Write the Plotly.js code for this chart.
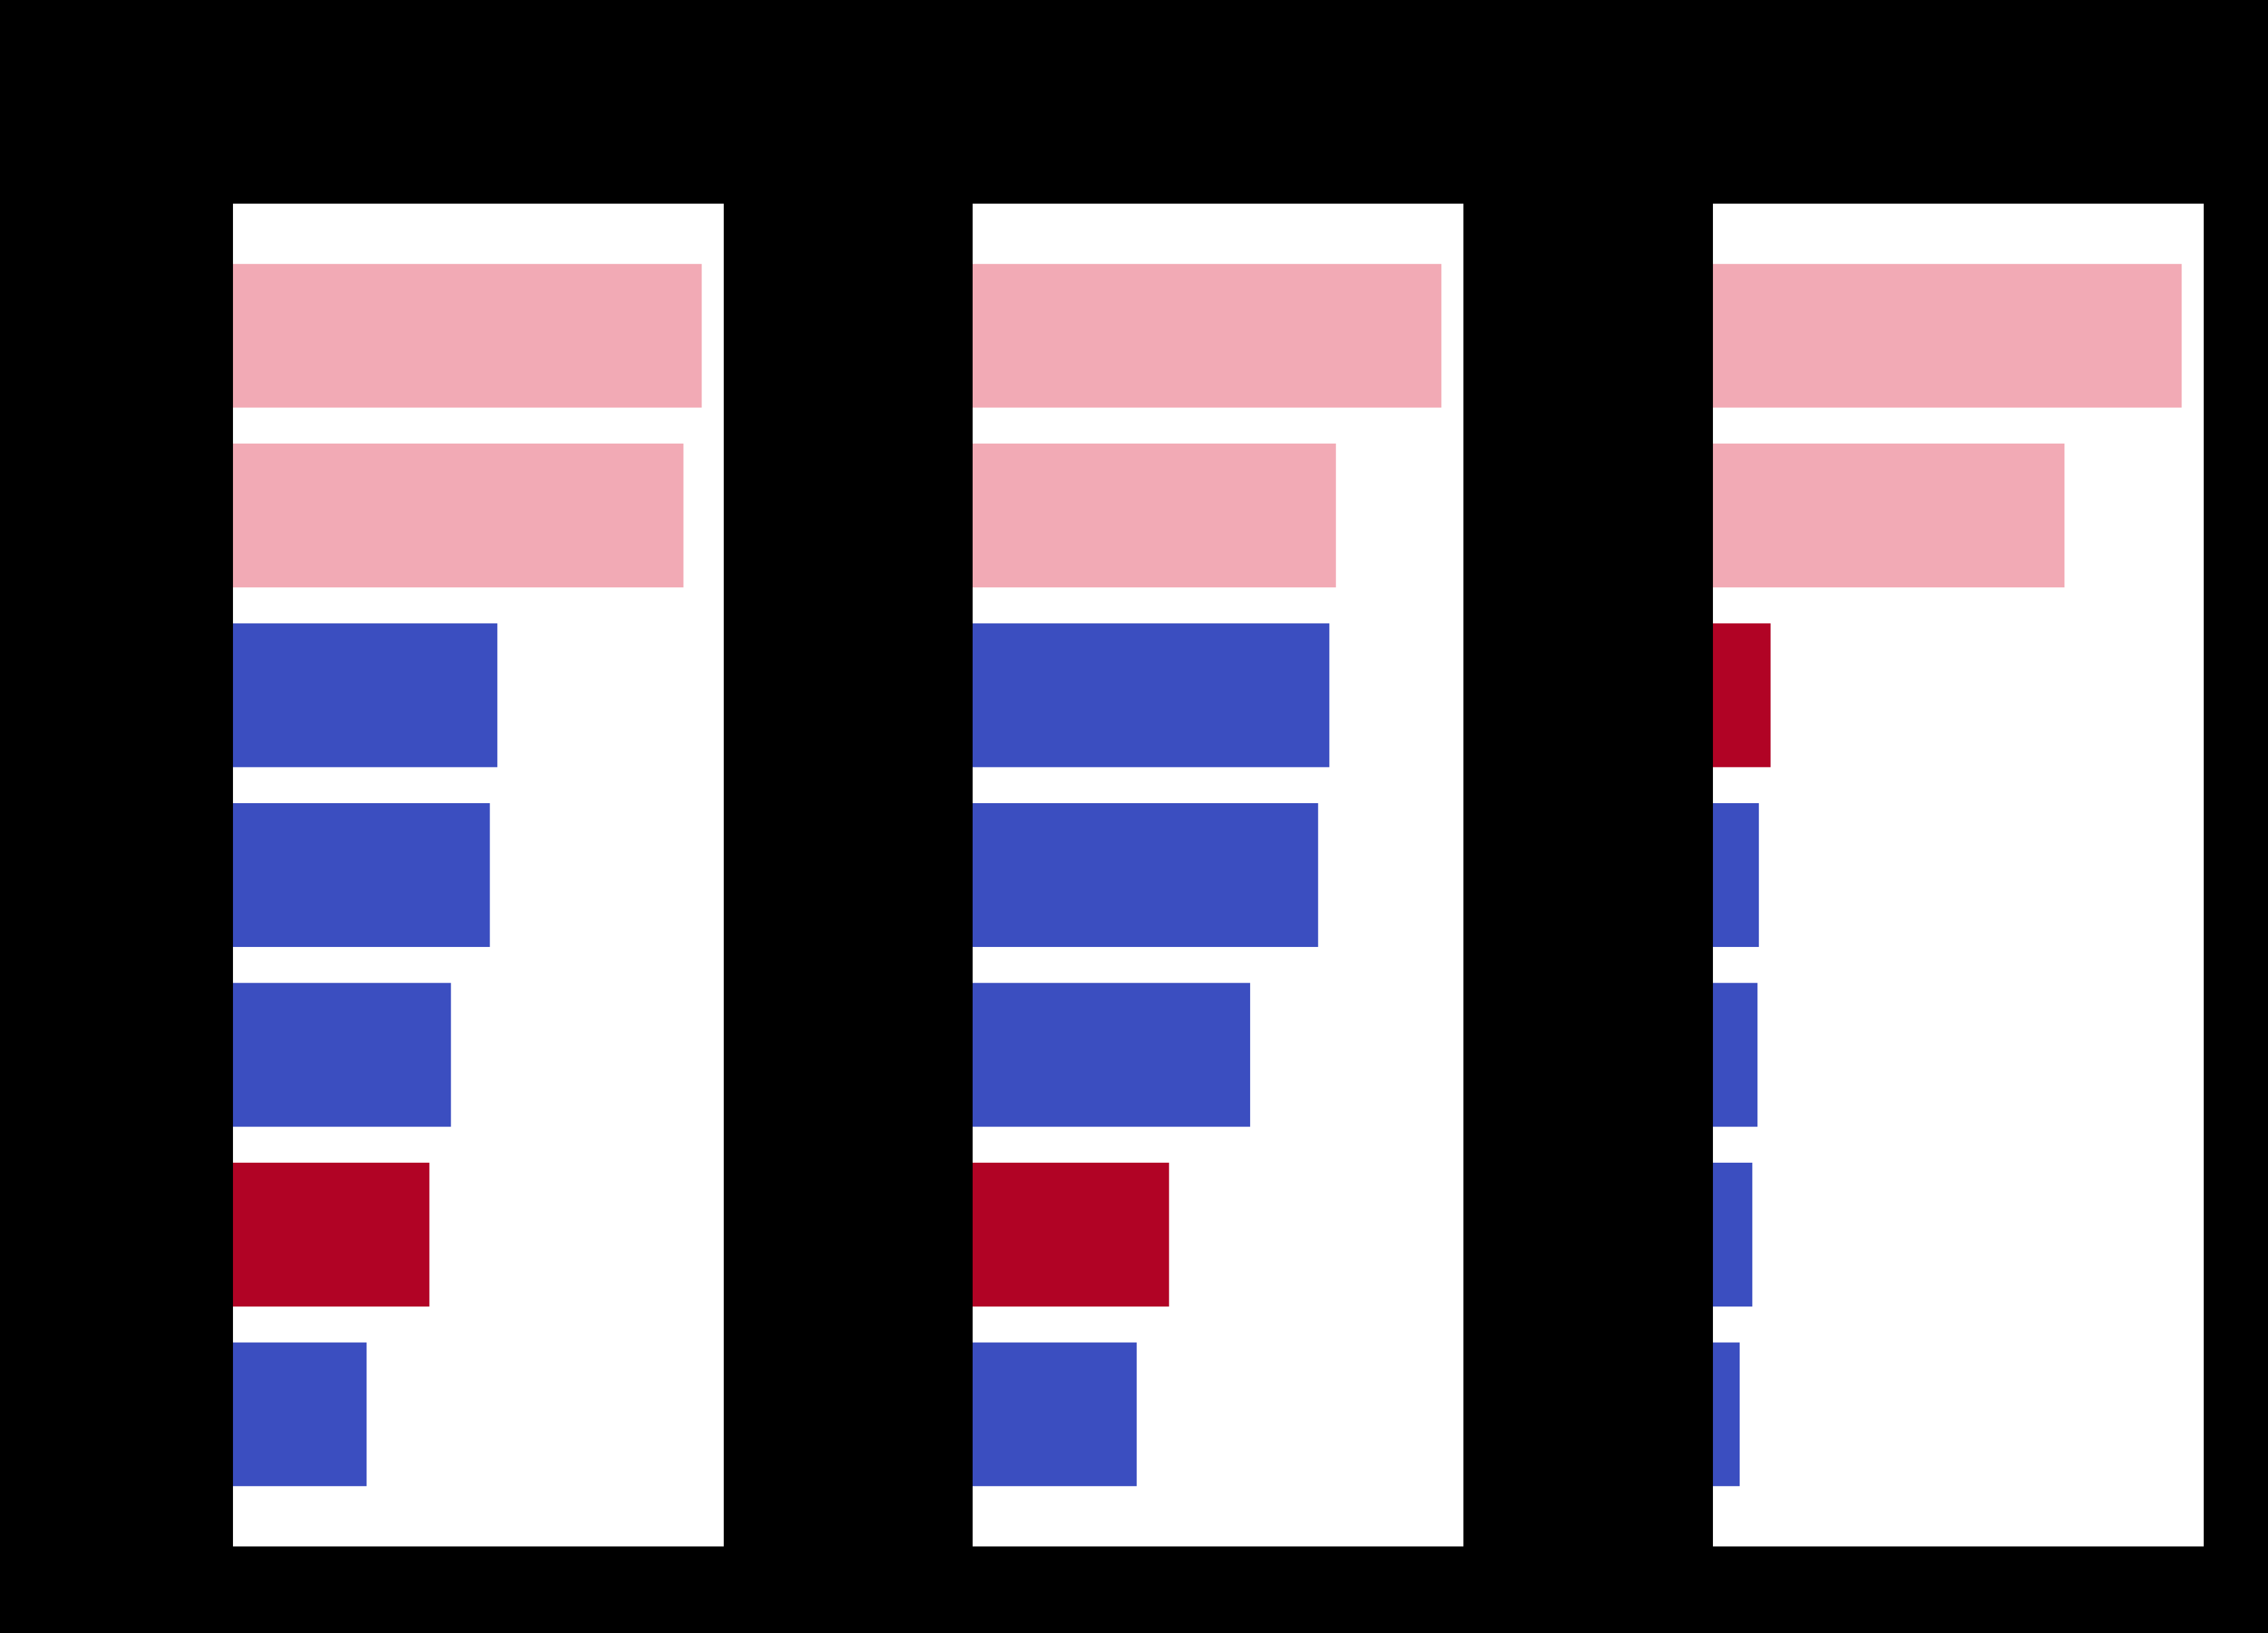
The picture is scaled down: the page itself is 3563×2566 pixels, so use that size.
<!DOCTYPE html>
<html>
<head>
<meta charset="utf-8">
<script src="https://cdn.plot.ly/plotly-3.0.1.min.js"></script>
<style>
  html, body { margin: 0; padding: 0; background: #000000; }
  #chart { width: 3563px; height: 2566px; }
</style>
</head>
<body>
<div id="chart"></div>
<script>
// Category labels (text in reference is black on black, not legible)
const categoriesA = ["Item 1", "Item 2", "Item 3", "Item 4", "Item 5", "Item 6", "Item 7"];
const categoriesB = ["Item 1", "Item 2", "Item 3", "Item 4", "Item 5", "Item 6", "Item 7"];
const categoriesC = ["Item 1", "Item 2", "Item 3", "Item 4", "Item 5", "Item 6", "Item 7"];

// Values (relative to the largest bar in each panel)
const valuesA = [1.000, 0.961, 0.564, 0.548, 0.465, 0.419, 0.285];
const valuesB = [1.000, 0.775, 0.761, 0.737, 0.592, 0.419, 0.350];
const valuesC = [1.000, 0.750, 0.123, 0.098, 0.095, 0.084, 0.057];

// Colour group of each bar: "pink", "blue", "red"
const groupsA = ["pink", "pink", "blue", "blue", "blue", "red", "blue"];
const groupsB = ["pink", "pink", "blue", "blue", "blue", "red", "blue"];
const groupsC = ["pink", "pink", "red", "blue", "blue", "blue", "blue"];

const palette = { pink: "#f2aab5", blue: "#3b4ec0", red: "#b10325" };

const panels = [
  { cats: categoriesA, vals: valuesA, groups: groupsA, xa: "x",  ya: "y"  },
  { cats: categoriesB, vals: valuesB, groups: groupsB, xa: "x2", ya: "y2" },
  { cats: categoriesC, vals: valuesC, groups: groupsC, xa: "x3", ya: "y3" }
];

const traces = panels.map(p => ({
  type: "bar",
  orientation: "h",
  x: p.vals,
  y: p.cats,
  xaxis: p.xa,
  yaxis: p.ya,
  marker: { color: p.groups.map(g => palette[g]), line: { width: 0 } },
  showlegend: false,
  hoverinfo: "x+y"
}));

const W = 3563, H = 2566;
const xDomains = [[366 / W, 1137 / W], [1528 / W, 2299 / W], [2691 / W, 3462 / W]];
const yDomain = [(H - 2430) / H, (H - 320) / H];

const font = { family: "DejaVu Sans, sans-serif", size: 30, color: "#000000" };

function xAxis(i, vals) {
  return {
    domain: xDomains[i],
    anchor: i === 0 ? "y" : "y" + (i + 1),
    range: [0, Math.max(...vals) * 1.047],
    showgrid: false,
    zeroline: false,
    showline: false,
    ticks: "outside",
    tickcolor: "#000000",
    tickfont: font,
    fixedrange: true
  };
}
function yAxis(i) {
  return {
    domain: yDomain,
    anchor: i === 0 ? "x" : "x" + (i + 1),
    type: "category",
    range: [6.735, -0.735],
    showgrid: false,
    zeroline: false,
    showline: false,
    ticks: "outside",
    tickcolor: "#000000",
    tickfont: font,
    fixedrange: true
  };
}

const layout = {
  width: W,
  height: H,
  margin: { l: 0, r: 0, t: 0, b: 0 },
  paper_bgcolor: "#000000",
  plot_bgcolor: "#ffffff",
  font: font,
  bargap: 0.2,
  showlegend: false,
  xaxis: xAxis(0, valuesA),
  xaxis2: xAxis(1, valuesB),
  xaxis3: xAxis(2, valuesC),
  yaxis: yAxis(0),
  yaxis2: yAxis(1),
  yaxis3: yAxis(2)
};

Plotly.newPlot("chart", traces, layout, { displayModeBar: false, staticPlot: true });
</script>
</body>
</html>
